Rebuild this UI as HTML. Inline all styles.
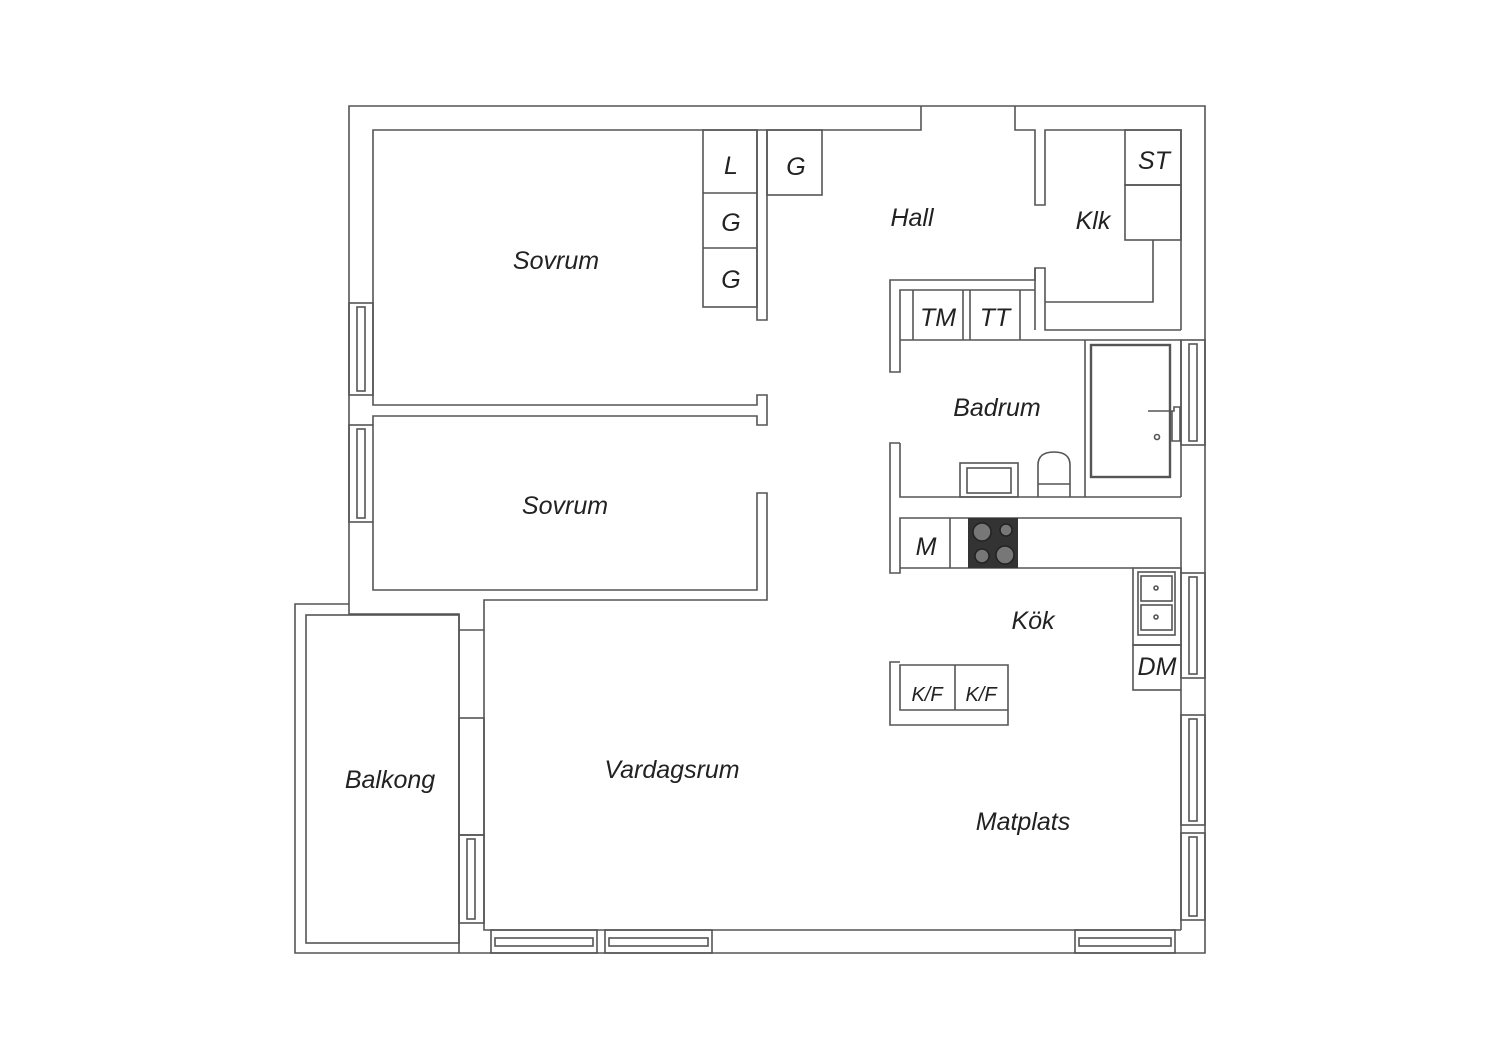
<!DOCTYPE html>
<html><head><meta charset="utf-8"><style>
html,body{margin:0;padding:0;background:#fff;}
svg{display:block}
text{font-family:"Liberation Sans",sans-serif;font-style:italic;fill:#222;text-anchor:middle;}
</style></head><body>
<svg width="1500" height="1060" viewBox="0 0 1500 1060" xmlns="http://www.w3.org/2000/svg">
<g fill="none" stroke="#555" stroke-width="1.6">
<!-- outer -->
<polyline points="349,604 349,106 1205,106 1205,953 295,953 295,604 349,604"/>
<rect x="306" y="615" width="153" height="328"/>
<polyline points="349,604 349,614 459,614 459,953"/>
<!-- bedrooms -->
<polyline points="373,303 373,130 921,130 921,106"/>
<polyline points="1015,106 1015,130 1035,130 1035,205 1045,205 1045,130 1181,130 1181,330"/>
<polyline points="373,395 373,405 757,405 757,395 767,395 767,425 757,425 757,416 373,416 373,425"/>
<polyline points="757,130 757,320 767,320 767,130"/>
<polyline points="373,522 373,590 757,590 757,493 767,493 767,600 484,600 484,630 459,630"/>
<line x1="373" y1="303" x2="373" y2="395"/>
<!-- left windows -->
<rect x="349" y="303" width="24" height="92"/><rect x="357" y="307" width="8" height="84"/>
<rect x="349" y="425" width="24" height="97"/><rect x="357" y="429" width="8" height="89"/>
<!-- wardrobes -->
<rect x="703" y="130" width="54" height="177"/><line x1="703" y1="193" x2="757" y2="193"/><line x1="703" y1="248" x2="757" y2="248"/>
<rect x="767" y="130" width="55" height="65"/>
<!-- Klk -->
<rect x="1125" y="130" width="56" height="55"/><rect x="1125" y="185" width="56" height="55"/>
<polyline points="1153,240 1153,302 1045,302"/>
<polyline points="1035,330 1035,268 1045,268 1045,330 1181,330"/>
<!-- hall/bath wall -->
<polyline points="1035,268 1035,280 890,280 890,372 900,372 900,290 1035,290"/>
<line x1="900" y1="340" x2="1181" y2="340"/>
<line x1="913" y1="290" x2="913" y2="340"/><line x1="963" y1="290" x2="963" y2="340"/><line x1="970" y1="290" x2="970" y2="340"/><line x1="1020" y1="290" x2="1020" y2="340"/>
<line x1="1085" y1="340" x2="1085" y2="497"/>
<rect x="1091" y="345" width="79" height="132" stroke-width="2.4"/>
<rect x="1181" y="340" width="24" height="105"/><rect x="1189" y="344" width="8" height="97"/>
<line x1="1181" y1="340" x2="1181" y2="497"/>
<polyline points="1148,411 1174,411 1174,407 1180,407 1180,441 1172,441 1172,411"/>
<circle cx="1157" cy="437" r="2.5"/>
<polyline points="900,443 890,443 890,573 900,573 900,518 1181,518 1181,573"/>
<polyline points="900,443 900,497 1181,497"/>
<rect x="960" y="463" width="58" height="34"/><rect x="967" y="468" width="44" height="25"/>
<path d="M1038,497 L1038,465 Q1038,452 1054,452 Q1070,452 1070,465 L1070,497 M1038,484 L1070,484"/>
<!-- kitchen -->
<polyline points="900,568 1133,568"/>
<line x1="950" y1="518" x2="950" y2="568"/>
<rect x="1133" y="568" width="48" height="77"/>
<rect x="1138" y="572" width="37" height="63"/><rect x="1141" y="576" width="31" height="25"/><rect x="1141" y="605" width="31" height="25"/>
<circle cx="1156" cy="588" r="2"/><circle cx="1156" cy="617" r="2"/>
<rect x="1133" y="645" width="48" height="45"/>
<rect x="1181" y="573" width="24" height="105"/><rect x="1189" y="577" width="8" height="97"/>
<rect x="1181" y="715" width="24" height="110"/><rect x="1189" y="719" width="8" height="102"/>
<rect x="1181" y="833" width="24" height="87"/><rect x="1189" y="837" width="8" height="79"/>
<line x1="1181" y1="690" x2="1181" y2="930"/>
<polyline points="900,662 890,662 890,725 1008,725 1008,665 900,665 900,710 1008,710"/>
<line x1="955" y1="665" x2="955" y2="710"/>
<!-- living -->
<polyline points="484,630 484,930 1181,930"/>
<rect x="459" y="718" width="25" height="117"/>
<rect x="459" y="835" width="25" height="88"/><rect x="467" y="839" width="8" height="80"/>
<rect x="491" y="930" width="106" height="23"/><rect x="495" y="938" width="98" height="8"/>
<rect x="605" y="930" width="107" height="23"/><rect x="609" y="938" width="99" height="8"/>
<rect x="1075" y="930" width="100" height="23"/><rect x="1079" y="938" width="92" height="8"/>
</g>
<!-- stove -->
<rect x="968" y="518" width="50" height="50" fill="#333"/>
<g fill="#777" stroke="#222" stroke-width="1.5">
<circle cx="982" cy="532" r="9"/><circle cx="1006" cy="530" r="6"/><circle cx="982" cy="556" r="7"/><circle cx="1005" cy="555" r="9"/>
</g>
<g font-size="25">
<text x="556" y="269">Sovrum</text>
<text x="565" y="514">Sovrum</text>
<text x="731" y="174">L</text><text x="731" y="231">G</text><text x="731" y="288">G</text>
<text x="796" y="175">G</text>
<text x="912" y="226">Hall</text>
<text x="1093" y="229">Klk</text>
<text x="1154" y="169">ST</text>
<text x="938" y="326">TM</text><text x="995" y="326">TT</text>
<text x="997" y="416">Badrum</text>
<text x="926" y="555">M</text>
<text x="1033" y="629">Kök</text>
<text x="1157" y="675">DM</text>
<text x="390" y="788">Balkong</text>
<text x="672" y="778">Vardagsrum</text>
<text x="1023" y="830">Matplats</text>
</g>
<g font-size="20"><text x="927" y="701">K/F</text><text x="981" y="701">K/F</text></g>
</svg>
</body></html>
